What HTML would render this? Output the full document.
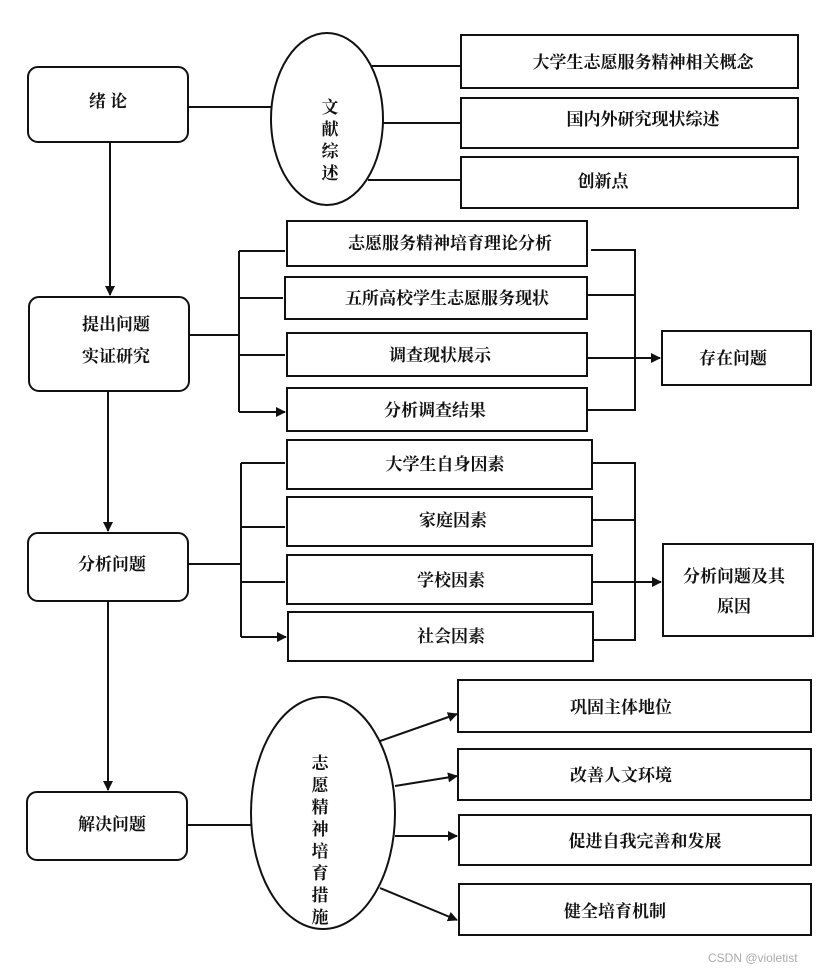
<!DOCTYPE html>
<html><head><meta charset="utf-8"><style>
body{margin:0;background:#fff;}
svg text{font-family:"Liberation Serif","Noto Serif CJK SC","Noto Sans CJK SC",serif;fill:#111;font-size:17px;font-weight:bold;}
</style></head><body>
<svg width="830" height="972" viewBox="0 0 830 972" xmlns="http://www.w3.org/2000/svg">
<defs><marker id="a" markerWidth="10" markerHeight="10" refX="9" refY="5" orient="auto" markerUnits="userSpaceOnUse"><path d="M0,0 L10,5 L0,10 z" fill="#111"/></marker></defs>
<g fill="none" stroke="#111" stroke-width="2">
<rect x="28" y="67" width="160" height="75" rx="10"/>
<rect x="29" y="297" width="160" height="94" rx="10"/>
<rect x="28" y="533" width="160" height="68" rx="10"/>
<rect x="27" y="792" width="160" height="68" rx="10"/>
<ellipse cx="327" cy="119" rx="56" ry="86"/>
<ellipse cx="323" cy="813" rx="72" ry="116"/>
<rect x="461" y="35" width="337" height="53"/>
<rect x="461" y="98" width="337" height="50"/>
<rect x="461" y="157" width="337" height="51"/>
<rect x="287" y="221" width="300" height="45"/>
<rect x="285" y="277" width="302" height="42"/>
<rect x="287" y="333" width="300" height="43"/>
<rect x="287" y="388" width="300" height="43"/>
<rect x="662" y="331" width="149" height="54"/>
<rect x="287" y="440" width="305" height="49"/>
<rect x="287" y="497" width="305" height="49"/>
<rect x="287" y="555" width="305" height="49"/>
<rect x="288" y="612" width="305" height="49"/>
<rect x="663" y="544" width="150" height="92"/>
<rect x="458" y="680" width="353" height="52"/>
<rect x="458" y="749" width="353" height="51"/>
<rect x="459" y="815" width="352" height="50"/>
<rect x="459" y="884" width="352" height="51"/>
<path d="M188 107H271M372 66H461M383 123H461M368 180H461"/>
<path d="M110 142V295" marker-end="url(#a)"/>
<path d="M108 391V531" marker-end="url(#a)"/>
<path d="M108 601V790" marker-end="url(#a)"/>
<path d="M189 335H239M239 251V412"/>
<path d="M239 251H285M239 298H283M239 355H285M239 412H285" marker-end="url(#a)"/>
<path d="M591 250H635V410H587M587 295H635"/>
<path d="M587 358H660" marker-end="url(#a)"/>
<path d="M188 564H241M241 463V637"/>
<path d="M241 463H285M241 527H285M241 582H285M241 637H286" marker-end="url(#a)"/>
<path d="M592 463H635V640H592M592 520H635"/>
<path d="M592 582H661" marker-end="url(#a)"/>
<path d="M187 825H251"/>
<path d="M380 741L457 714" marker-end="url(#a)"/>
<path d="M395 786L457 776" marker-end="url(#a)"/>
<path d="M395 836L457 836" marker-end="url(#a)"/>
<path d="M380 888L457 920" marker-end="url(#a)"/>
</g>
<g text-anchor="middle">
<text x="108" y="107">绪 论</text>
<text x="116" y="330">提出问题</text>
<text x="116" y="362">实证研究</text>
<text x="112" y="570">分析问题</text>
<text x="112" y="830">解决问题</text>
<text x="330" y="113">文</text><text x="330" y="135">献</text><text x="330" y="157">综</text><text x="330" y="179">述</text>
<text x="320" y="769">志</text><text x="320" y="791">愿</text><text x="320" y="813">精</text><text x="320" y="835">神</text><text x="320" y="857">培</text><text x="320" y="879">育</text><text x="320" y="901">措</text><text x="320" y="923">施</text>
<text x="643" y="68">大学生志愿服务精神相关概念</text>
<text x="643" y="125">国内外研究现状综述</text>
<text x="603" y="187">创新点</text>
<text x="450" y="249">志愿服务精神培育理论分析</text>
<text x="447" y="304">五所高校学生志愿服务现状</text>
<text x="440" y="361">调查现状展示</text>
<text x="435" y="416">分析调查结果</text>
<text x="733" y="364">存在问题</text>
<text x="445" y="470">大学生自身因素</text>
<text x="453" y="526">家庭因素</text>
<text x="451" y="586">学校因素</text>
<text x="451" y="642">社会因素</text>
<text x="734" y="582">分析问题及其</text>
<text x="734" y="612">原因</text>
<text x="621" y="713">巩固主体地位</text>
<text x="621" y="781">改善人文环境</text>
<text x="645" y="847">促进自我完善和发展</text>
<text x="615" y="917">健全培育机制</text>
</g>
<text x="708" y="962" style="font-family:'Liberation Sans',sans-serif;font-size:12px;font-weight:normal;fill:#aaa">CSDN @violetist</text>
</svg>
</body></html>
